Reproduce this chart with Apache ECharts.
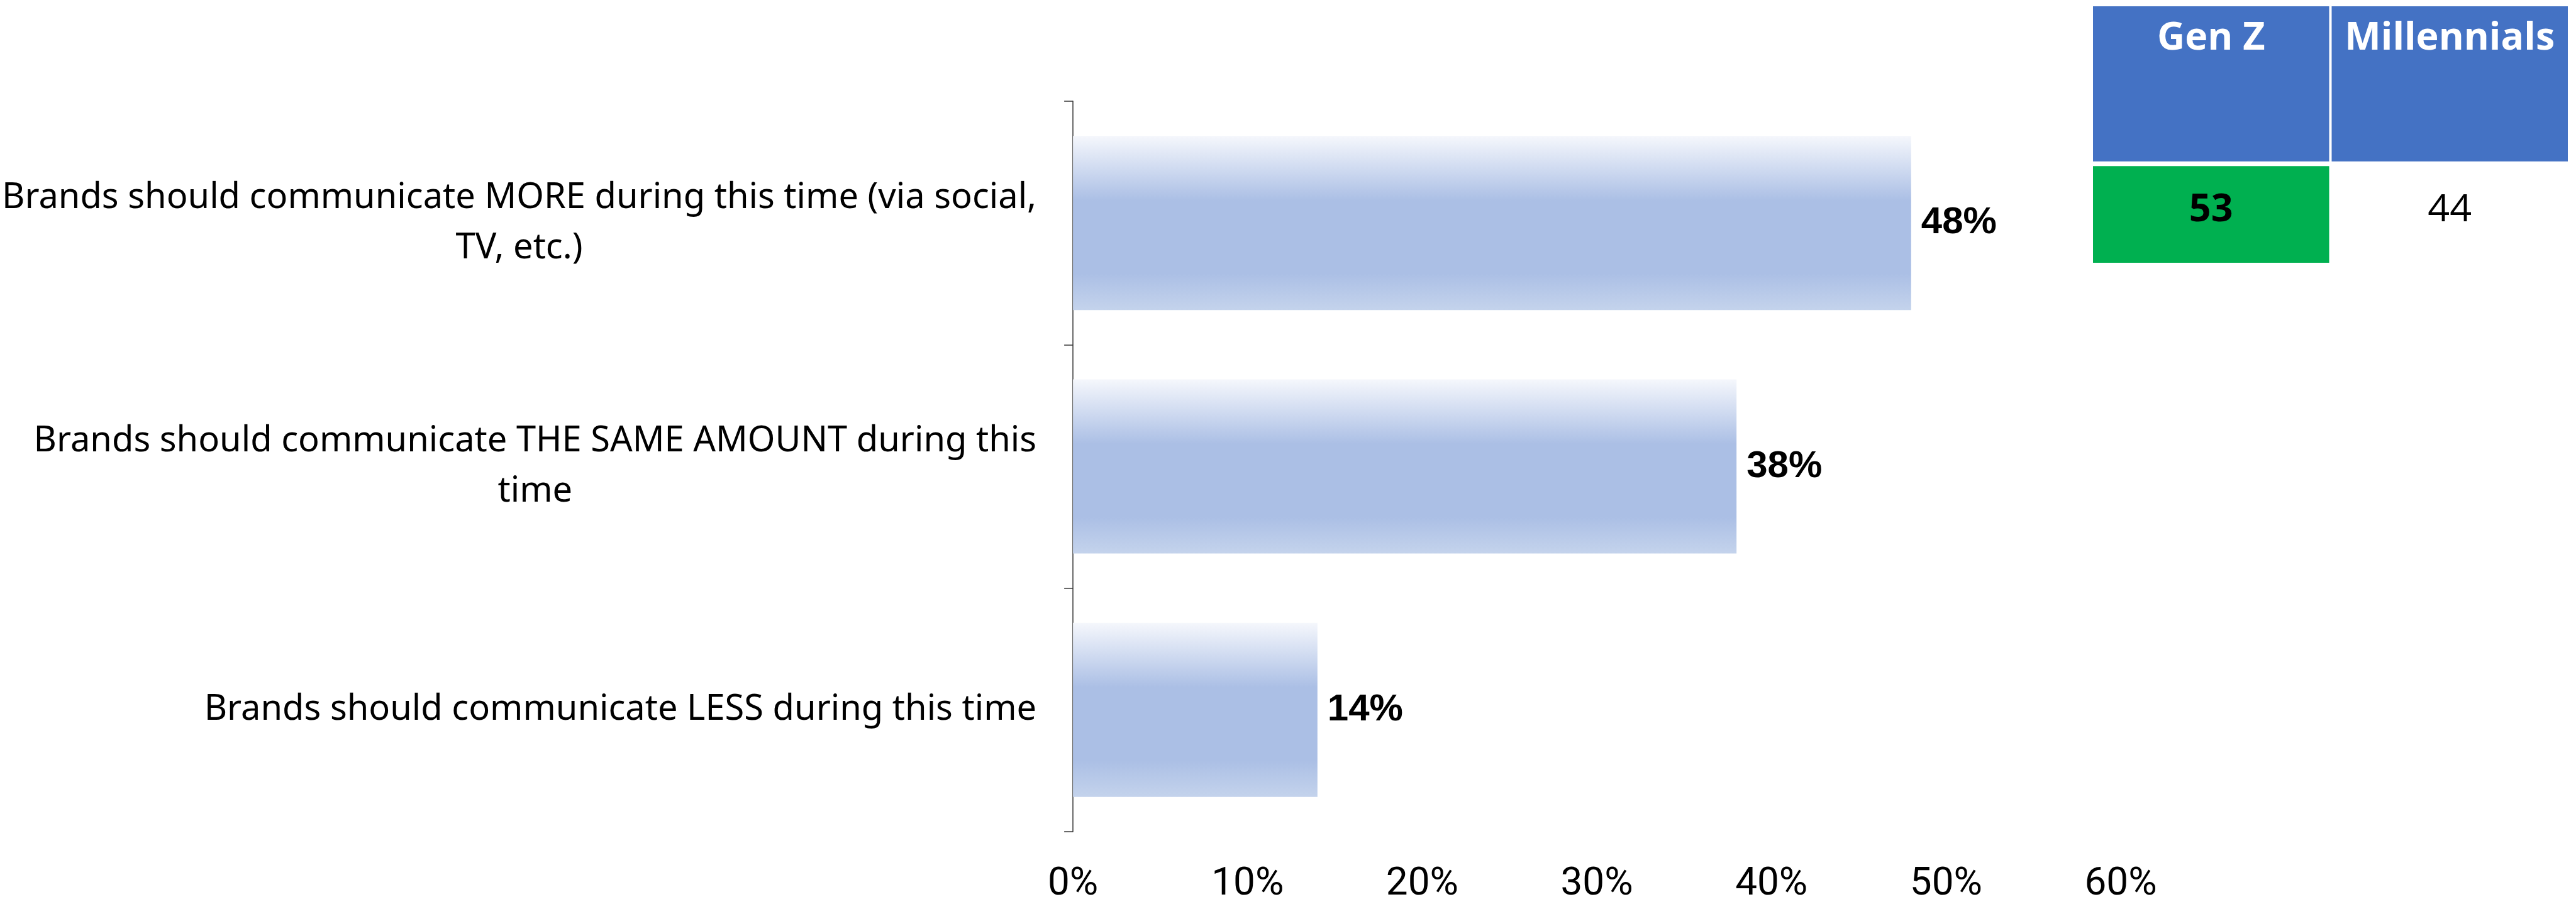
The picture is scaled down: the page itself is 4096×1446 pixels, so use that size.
<!DOCTYPE html>
<html>
<head>
<meta charset="utf-8">
<script src="https://cdn.jsdelivr.net/npm/echarts@6/dist/echarts.min.js"></script>
<style>
  html, body { margin: 0; padding: 0; background: #ffffff; }
  #chart { width: 4096px; height: 1446px; }
</style>
</head>
<body>
<div id="chart"></div>
<script>
// Survey answers (one bar each), share of respondents in percent
const categories = [
  'Brands should communicate MORE during this time (via social,\nTV, etc.)',
  'Brands should communicate THE SAME AMOUNT during this\ntime',
  'Brands should communicate LESS during this time'
];
const shares = [48, 38, 14];
const axisTicks = [0, 10, 20, 30, 40, 50, 60];

// Side table: generation breakdown for the "MORE" answer
const groups = ['Gen Z', 'Millennials'];
const groupScores = [53, 44];

const topScore = Math.max.apply(null, groupScores);
const tickStep = axisTicks[1] - axisTicks[0];

const chart = echarts.init(document.getElementById('chart'), null, { renderer: 'canvas' });

const barGradient = new echarts.graphic.LinearGradient(0, 0, 0, 1, [
  { offset: 0, color: '#f5f7fc' },
  { offset: 0.37, color: '#abbfe5' },
  { offset: 0.79, color: '#abbfe5' },
  { offset: 1, color: '#c4d3ec' }
]);

chart.setOption({
  backgroundColor: '#ffffff',
  animation: false,
  grid: [
    { left: 1700, right: 724, top: 161, bottom: 123, containLabel: false },
    { left: 3326, right: 11, top: 10, height: 408, containLabel: false }
  ],
  xAxis: [
    {
      gridIndex: 0,
      type: 'value',
      min: axisTicks[0],
      max: axisTicks[axisTicks.length - 1],
      interval: tickStep,
      axisLine: { show: false },
      axisTick: { show: false },
      splitLine: { show: false },
      axisLabel: {
        formatter: '{value}%',
        margin: 53,
        color: '#000000',
        fontFamily: 'Roboto',
        fontSize: 62
      }
    },
    {
      gridIndex: 1,
      type: 'category',
      data: groups,
      show: false
    }
  ],
  yAxis: [
    {
      gridIndex: 0,
      type: 'category',
      data: categories,
      inverse: true,
      axisLine: { show: true, lineStyle: { color: '#3a3a3a', width: 1.5 } },
      axisTick: { show: true, length: 14, lineStyle: { color: '#3a3a3a', width: 1.5 } },
      splitLine: { show: false },
      axisLabel: {
        margin: 58,
        align: 'right',
        formatter: function (v) {
          return v.split('\n').map(function (line) { return '{c|' + line + '}'; }).join('\n');
        },
        rich: {
          c: {
            align: 'center',
            color: '#000000',
            fontFamily: 'Noto Sans',
            fontSize: 56,
            lineHeight: 80
          }
        }
      }
    },
    {
      gridIndex: 1,
      type: 'value',
      min: 0,
      max: 100,
      show: false
    }
  ],
  series: [
    {
      type: 'bar',
      xAxisIndex: 0,
      yAxisIndex: 0,
      data: shares,
      barCategoryGap: '28.5%',
      itemStyle: { color: barGradient },
      label: {
        show: true,
        position: 'right',
        distance: 16,
        formatter: '{c}%',
        color: '#000000',
        fontFamily: 'Liberation Sans',
        fontWeight: 'bold',
        fontSize: 60
      }
    },
    {
      type: 'custom',
      xAxisIndex: 1,
      yAxisIndex: 1,
      clip: false,
      data: groupScores.map(function (v, i) { return [i, v]; }),
      renderItem: function (params, api) {
        const i = api.value(0);
        const score = api.value(1);
        const cs = params.coordSys;
        const cx = api.coord([i, 0])[0];
        const bw = api.size([1, 0])[0];
        const x0 = cx - bw / 2 + 2;
        const cw = bw - 4;
        const headH = cs.height * 0.605;
        const gap = cs.height * 0.018;
        const rowY = cs.y + headH + gap;
        const rowH = cs.height - headH - gap;
        const best = score === topScore;
        return {
          type: 'group',
          children: [
            {
              type: 'rect',
              shape: { x: x0, y: cs.y, width: cw, height: headH },
              style: { fill: '#4472c4' }
            },
            {
              type: 'text',
              x: cx,
              y: cs.y + headH * 0.21,
              style: {
                text: groups[i],
                fill: '#ffffff',
                fontFamily: 'Open Sans',
                fontWeight: 'bold',
                fontSize: 61,
                align: 'center',
                verticalAlign: 'middle'
              }
            },
            {
              type: 'rect',
              shape: { x: x0, y: rowY, width: cw, height: rowH },
              style: { fill: best ? '#00b050' : 'rgba(0,0,0,0)' }
            },
            {
              type: 'text',
              x: cx,
              y: rowY + rowH * 0.46,
              style: {
                text: String(score),
                fill: '#000000',
                fontFamily: 'Open Sans',
                fontWeight: best ? 'bold' : 'normal',
                fontSize: 61,
                align: 'center',
                verticalAlign: 'middle'
              }
            }
          ]
        };
      }
    }
  ]
});
</script>
</body>
</html>
